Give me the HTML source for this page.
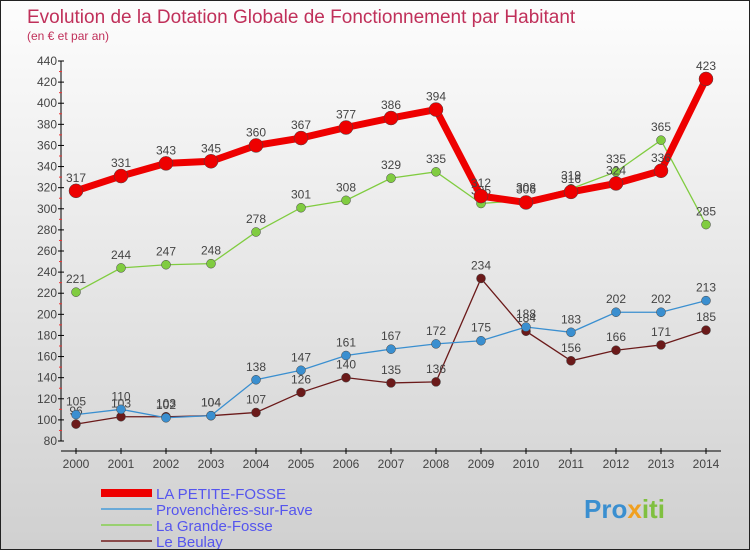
<!DOCTYPE html>
<html><head><meta charset="utf-8"><style>
body{margin:0}
#c{width:748px;height:548px;border:1px solid #222;background:linear-gradient(#fdfdfd,#d0d0d0);position:relative;font-family:"Liberation Sans",sans-serif;overflow:hidden}
svg text{font-family:"Liberation Sans",sans-serif}
</style></head><body>
<div id="c">
<svg id="s" width="748" height="548">
<text x="26" y="22" font-size="19" fill="#c0305a">Evolution de la Dotation Globale de Fonctionnement par Habitant</text>
<text x="26" y="39" font-size="12" fill="#c0305a">(en € et par an)</text>
<g id="g"></g>
<g><text x="583" y="517" font-size="26" font-weight="bold" fill="#3a8fd0">Pro<tspan fill="#f0a020">x</tspan><tspan fill="#80c040">iti</tspan></text></g>
</svg></div>
<script>
const years=[2000,2001,2002,2003,2004,2005,2006,2007,2008,2009,2010,2011,2012,2013,2014];
const yTicks=[80,100,120,140,160,180,200,220,240,260,280,300,320,340,360,380,400,420,440];
const petite=[317,331,343,345,360,367,377,386,394,312,306,316,324,336,423];
const prov=[105,110,102,104,138,147,161,167,172,175,188,183,202,202,213];
const grande=[221,244,247,248,278,301,308,329,335,305,308,319,335,365,285];
const beulay=[96,103,103,104,107,126,140,135,136,234,184,156,166,171,185];
const NS="http://www.w3.org/2000/svg",g=document.getElementById('g');
const X=i=>75+i*45, Y=v=>440-(v-80)*380/360;
function mk(t,a,p){const e=document.createElementNS(NS,t);for(const k in a)e.setAttribute(k,a[k]);(p||g).appendChild(e);return e;}
let ax=mk('line',{x1:60,y1:Y(440),x2:60,y2:Y(80),stroke:'#000'});


let xx=mk('line',{x1:60,y1:450,x2:720,y2:450,stroke:'#000'});


yTicks.forEach((v,i)=>{mk('line',{x1:57,x2:63,y1:Y(v),y2:Y(v),stroke:'#000'});
 if(i<yTicks.length-1)mk('line',{x1:58,x2:61,y1:Y(v+10),y2:Y(v+10),stroke:'#e33'});
 const t=mk('text',{x:56,y:Y(v)+4,'font-size':12,'text-anchor':'end',fill:'#444'});t.textContent=v;
 
 });
years.forEach((y,i)=>{mk('line',{x1:X(i),x2:X(i),y1:447,y2:453,stroke:'#000'});
 const t=mk('text',{x:X(i),y:467,'font-size':12,'text-anchor':'middle',fill:'#444'});t.textContent=y;
 
 });
function series(d,col,w,r,name){
 const s=mk('g',{});
 mk('polyline',{points:d.map((v,i)=>X(i)+','+Y(v)).join(' '),fill:'none',stroke:col,'stroke-width':w},s);
 d.forEach((v,i)=>{const c=mk('circle',{cx:X(i),cy:Y(v),r:r,fill:col,stroke:'#444','stroke-width':0.5},s);
  
  const t=mk('text',{x:X(i),y:Y(v)-9,'font-size':12,'text-anchor':'middle',fill:'#444'},s);t.textContent=v;
  });
}
series(beulay,'#6b1a1a',1.3,4.5,'le-beulay');
series(prov,'#3a8fd0',1.3,4.5,'provencheres');
series(grande,'#80cc40',1.3,4.5,'la-grande-fosse');
series(petite,'#ee0000',7,7,'la-petite-fosse');
const leg=[['LA PETITE-FOSSE','#ee0000',8],['Provenchères-sur-Fave','#6aaad8',2],['La Grande-Fosse','#99d070',2],['Le Beulay','#8a4a4a',2]];
leg.forEach((l,i)=>{const y=492+i*16;const e=mk('g',{});
 mk('line',{x1:100,x2:151,y1:y,y2:y,stroke:l[1],'stroke-width':l[2]},e);
 const t=mk('text',{x:155,y:y+6,'font-size':15,fill:'#5555ee'},e);t.textContent=l[0];});
</script></body></html>
